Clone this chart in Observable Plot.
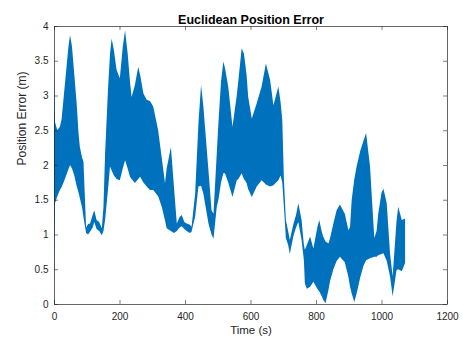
<!DOCTYPE html>
<html>
<head>
<meta charset="utf-8">
<script src="https://cdn.jsdelivr.net/npm/d3@7"></script>
<script src="https://cdn.jsdelivr.net/npm/@observablehq/plot@0.6"></script>
<style>
  html, body { margin: 0; padding: 0; background: #fff; }
</style>
</head>
<body>
<div id="chart"></div>
<script>
const time = [0,3,10,18,23,30,38,44,49,55,62,69,75,79,86,90,98,104,110,118,123,130,138,146,151,156,165,171,176,183,191,201,210,217,225,232,237,247,257,263,273,283,293,303,318,329,339,344,357,366,375,383,390,398,405,415,420,431,441,449,456,461,472,481,487,497,502,510,517,522,532,545,558,563,573,580,588,593,604,619,634,647,660,670,685,692,697,702,708,715,720,731,739,746,756,763,766,772,782,792,804,810,817,822,829,838,843,853,863,873,888,899,904,909,917,924,935,945,953,965,978,985,990,1000,1006,1016,1026,1034,1040,1046,1051,1062,1072];
const upper = [3.40,2.62,2.50,2.55,2.65,3.00,3.40,3.70,3.87,3.70,3.30,2.90,2.45,2.26,2.10,2.05,1.10,1.15,1.16,1.28,1.35,1.21,1.18,1.09,1.40,2.17,3.10,3.60,3.82,3.65,3.37,3.25,3.70,3.94,3.60,3.20,2.98,3.15,3.41,3.30,3.03,2.94,2.92,2.84,2.50,2.10,1.74,1.95,2.26,1.70,1.16,1.25,1.28,1.18,1.16,1.14,1.11,1.59,2.60,3.15,2.85,2.55,1.90,1.35,1.30,2.17,2.60,3.20,3.49,3.40,3.13,2.55,3.00,3.22,3.68,3.60,3.30,2.98,2.67,2.89,3.13,3.46,3.22,2.86,3.13,2.90,2.65,1.80,1.20,1.05,0.92,1.15,1.28,1.45,1.21,0.85,0.78,0.85,0.97,0.80,1.10,1.21,1.05,0.97,0.90,0.87,0.95,1.16,1.35,1.43,1.30,1.06,1.11,1.50,1.80,1.98,2.20,2.35,2.46,1.98,0.95,1.05,1.30,1.60,1.66,1.45,0.73,0.40,0.80,1.20,1.40,1.21,1.23];
const lower = [0.25,1.45,1.55,1.64,1.68,1.76,1.86,1.94,2.00,1.95,1.85,1.70,1.60,1.52,1.38,1.25,1.02,1.00,1.04,1.10,1.18,1.08,1.05,0.99,1.05,1.21,1.65,1.98,1.92,1.85,1.80,1.78,1.95,2.07,1.95,1.83,1.80,1.74,1.80,1.83,1.75,1.69,1.64,1.64,1.55,1.40,1.20,1.09,1.05,1.02,1.05,1.10,1.12,1.08,1.05,1.02,1.04,1.26,1.69,1.70,1.59,1.45,1.15,1.00,0.94,1.40,1.50,1.75,1.88,1.88,1.75,1.54,1.78,1.80,1.88,1.80,1.74,1.65,1.54,1.69,1.78,1.72,1.69,1.71,1.78,1.85,1.75,1.40,0.95,0.85,0.72,0.98,1.10,1.18,0.92,0.63,0.30,0.22,0.25,0.32,0.22,0.18,0.12,0.06,0.01,0.20,0.33,0.50,0.62,0.68,0.60,0.39,0.25,0.15,0.03,0.15,0.38,0.55,0.63,0.66,0.68,0.68,0.70,0.72,0.73,0.62,0.40,0.11,0.30,0.49,0.50,0.47,0.59];
const xTicks = [0, 200, 400, 600, 800, 1000, 1200];
const yTicks = [0, 0.5, 1, 1.5, 2, 2.5, 3, 3.5, 4];
const titleText = "Euclidean Position Error";
const xLabel = "Time (s)";
const yLabel = "Position Error (m)";

const data = time.map((t, i) => ({t, hi: upper[i], lo: lower[i]}));
const axisColor = "#262626";

const chart = Plot.plot({
  width: 463,
  height: 339,
  marginLeft: 54,
  marginRight: 16,
  marginTop: 26,
  marginBottom: 35,
  style: {fontFamily: "'Liberation Sans', Arial, sans-serif", background: "#fff", color: axisColor},
  x: {domain: [0, 1200], label: null},
  y: {domain: [0, 4], label: null},
  marks: [
    Plot.areaY(data, {x: "t", y1: "lo", y2: "hi", fill: "#0072BD", curve: "linear"}),
    Plot.axisX({ticks: xTicks, tickSize: 0, tickPadding: 8, fontSize: 10, tickFormat: d3.format("~g")}),
    Plot.axisY({ticks: yTicks, tickSize: 0, tickPadding: 6, fontSize: 10, tickFormat: d3.format("~g")}),
    Plot.tickX(xTicks, {x: d => d, insetTop: 274, stroke: axisColor, strokeWidth: 0.6}),
    Plot.tickX(xTicks, {x: d => d, insetBottom: 274, stroke: axisColor, strokeWidth: 0.6}),
    Plot.tickY(yTicks, {y: d => d, insetRight: 389, stroke: axisColor, strokeWidth: 0.6}),
    Plot.tickY(yTicks, {y: d => d, insetLeft: 389, stroke: axisColor, strokeWidth: 0.6}),
    Plot.frame({stroke: axisColor, strokeWidth: 0.7}),
    Plot.text([titleText], {frameAnchor: "top", dy: -11, fontWeight: "bold", fontSize: 12.5, fill: "#000"}),
    Plot.text([xLabel], {frameAnchor: "bottom", dy: 29, fontSize: 11.5, fill: axisColor}),
    Plot.text([yLabel], {frameAnchor: "left", dx: -32, rotate: -90, fontSize: 12, fill: axisColor})
  ]
});
document.getElementById("chart").appendChild(chart);
</script>
</body>
</html>
